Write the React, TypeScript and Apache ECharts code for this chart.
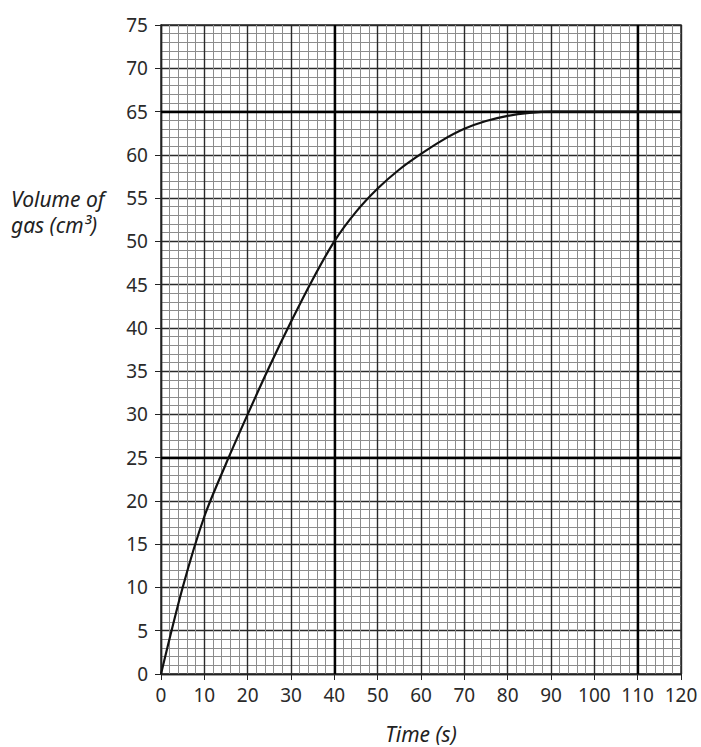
import React, { useEffect, useRef } from "react";
import * as echarts from "echarts";

const timeValues = [0, 5, 10, 15, 20, 25, 30, 35, 40, 45, 50, 55, 60, 65, 70, 75, 80, 85, 90, 95, 100, 110, 120];
const volumeValues = [0, 10, 18.2, 24.3, 30, 35.5, 40.7, 45.6, 50, 53.4, 56.1, 58.3, 60.1, 61.7, 63, 63.9, 64.5, 64.85, 65, 65, 65, 65, 65];
const heavyTimeLines = [40, 110];
const heavyVolumeLines = [25, 65];
const xAxisTitle = "Time (s)";
const yAxisTitleLines = ["Volume of", "gas (cm³)"];

export default function App() {
  const ref = useRef<HTMLDivElement>(null);
  useEffect(() => {
    if (!ref.current) return;
    const chart = echarts.init(ref.current, null, { renderer: "svg" });
    const font = "'Noto Sans', 'DejaVu Sans', sans-serif";
    const labelStyle = { color: "#2a2a2a", fontSize: 19, fontFamily: font };
    const majorLine = { lineStyle: { color: "#2a2a2a", width: 1.4 } };
    const minorLine = { lineStyle: { color: "#8c8c8c", width: 1 } };
    chart.setOption({
      animation: false,
      backgroundColor: "#fff",
      grid: { left: 161, top: 25, width: 520, height: 649, containLabel: false, outerBoundsMode: "none", show: true, borderColor: "#222", borderWidth: 1.4 },
      xAxis: {
        type: "value",
        min: 0,
        max: 120,
        interval: 10,
        name: xAxisTitle,
        nameLocation: "middle",
        nameGap: 49,
        nameTextStyle: { fontStyle: "italic", fontSize: 21, lineHeight: 22, color: "#222", fontFamily: font },
        axisLine: { show: true, lineStyle: { color: "#222", width: 1.4 } },
        axisTick: { show: true, length: 6, lineStyle: { color: "#222" } },
        axisLabel: { ...labelStyle, margin: 11 },
        splitLine: { show: true, ...majorLine },
        minorTick: { show: false, splitNumber: 5 },
        minorSplitLine: { show: true, ...minorLine },
      },
      yAxis: {
        type: "value",
        min: 0,
        max: 75,
        interval: 5,
        axisLine: { show: true, lineStyle: { color: "#222", width: 1.4 } },
        axisTick: { show: true, length: 6, lineStyle: { color: "#222" } },
        axisLabel: { ...labelStyle, margin: 13 },
        splitLine: { show: true, ...majorLine },
        minorTick: { show: false, splitNumber: 5 },
        minorSplitLine: { show: true, ...minorLine },
      },
      graphic: [
        {
          type: "text",
          left: 11,
          top: 186,
          style: {
            text: yAxisTitleLines.join("\n"),
            fontStyle: "italic",
            fontSize: 21,
            lineHeight: 26,
            fill: "#222",
            fontFamily: font,
          },
        },
      ],
      series: [
        {
          type: "line",
          data: timeValues.map((t, i) => [t, volumeValues[i]]),
          smooth: 0.3,
          showSymbol: false,
          lineStyle: { color: "#111", width: 2.2 },
          z: 5,
          markLine: {
            silent: true,
            symbol: "none",
            label: { show: false },
            lineStyle: { color: "#000", width: 2.4, type: "solid" },
            z: 3,
            data: [
              ...heavyTimeLines.map((v) => ({ xAxis: v })),
              ...heavyVolumeLines.map((v) => ({ yAxis: v })),
            ],
          },
        },
      ],
    });
    return () => chart.dispose();
  }, []);
  return <div ref={ref} style={{ position: "fixed", left: 0, top: 0, width: 701, height: 747 }} />;
}
